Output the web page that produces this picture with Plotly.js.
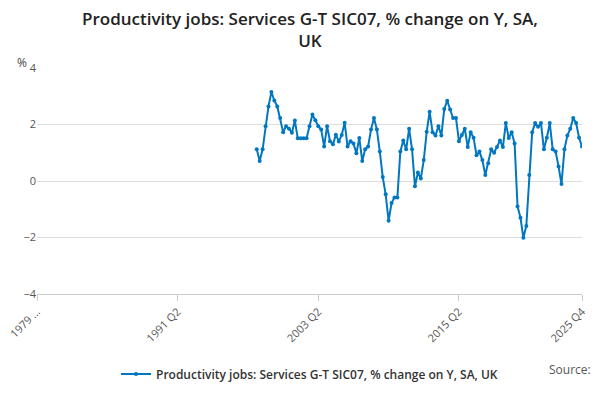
<!DOCTYPE html>
<html><head><script src="https://cdn.plot.ly/plotly-3.0.1.min.js"></script></head>
<body style="margin:0"><div id="c" style="width:600px;height:400px"></div>
<script>
const values = [1.12,0.71,1.12,1.94,2.64,3.15,2.85,2.64,2.23,1.73,1.94,1.85,1.71,2.14,1.51,1.51,1.51,1.51,1.94,2.35,2.15,1.94,1.82,1.22,1.94,1.41,1.30,1.64,1.40,1.63,2.06,1.22,1.41,1.33,0.98,1.52,0.71,1.12,1.22,1.82,2.23,1.82,1.04,0.14,-0.47,-1.41,-0.78,-0.58,-0.58,1.04,1.43,1.12,1.85,1.12,-0.19,0.30,
0.09,0.74,1.74,2.45,1.73,1.61,1.94,1.61,2.55,2.84,2.53,2.23,2.23,1.41,1.63,1.85,1.20,1.73,1.53,0.91,1.04,0.74,0.21,0.63,1.12,1.00,1.20,1.43,1.20,2.05,1.52,1.73,1.33,-0.90,-1.30,-2.01,-1.59,0.21,1.73,2.05,1.92,2.05,1.12,1.53,2.05,1.12,1.04,0.51,-0.11,1.12,1.61,1.85,2.23,2.05,1.53,1.22];
const categories = [];
for (let y=1979;y<=2025;y++) for (let q=1;q<=4;q++) { if (y===1979 && q<2) continue; categories.push(y+' Q'+q); }
const xs = categories.slice(categories.length-values.length);
const tickLabels = ['1979 Q2','1991 Q2','2003 Q2','2015 Q2','2025 Q4'];
const tickText = ['1979 …','1991 Q2','2003 Q2','2015 Q2','2025 Q4'];
Plotly.newPlot('c',[
 {x:categories,y:categories.map(()=>null),type:'scatter',mode:'lines',showlegend:false,hoverinfo:'skip'},
 {x:xs,y:values,type:'scatter',mode:'lines+markers',name:'Productivity jobs: Services G-T SIC07, % change on Y, SA, UK',
  line:{color:'#0077c0',width:2},marker:{color:'#0077c0',size:4}}
],{
 width:600,height:400,
 font:{family:'Open Sans, sans-serif',color:'#444'},
 margin:{l:37,r:18,t:68,b:86},
 xaxis:{type:'category',automargin:false,range:[0,categories.length-1],categoryorder:'array',categoryarray:categories,tickvals:tickLabels,ticktext:tickText,tickangle:-45,
   showgrid:false,showline:true,linecolor:'#ccc',ticks:'outside',tickcolor:'#ccc',ticklen:6,tickfont:{size:11,color:'#555'}},
 yaxis:{range:[-4,4],dtick:2,gridcolor:'#ddd',zeroline:false,automargin:false,tickfont:{size:11,color:'#555'}},
 showlegend:true,legend:{orientation:'h',x:0.5,xanchor:'center',y:-0.29,font:{size:12,color:'#333',weight:600}},
 annotations:[
  {text:'Productivity jobs: Services G-T SIC07, % change on Y, SA,<br>UK',xref:'paper',yref:'paper',x:0.5,y:1.28,yanchor:'top',showarrow:false,font:{size:17,color:'#222',weight:600}},
  {text:'%',xref:'paper',yref:'paper',x:-0.04,y:1.07,showarrow:false,font:{size:12,color:'#444'},xanchor:'left'},
  {text:'Source:',xref:'paper',yref:'paper',x:1.02,y:-0.38,showarrow:false,font:{size:12,color:'#555'},xanchor:'right'}
 ]
},{displayModeBar:false});
</script></body></html>
